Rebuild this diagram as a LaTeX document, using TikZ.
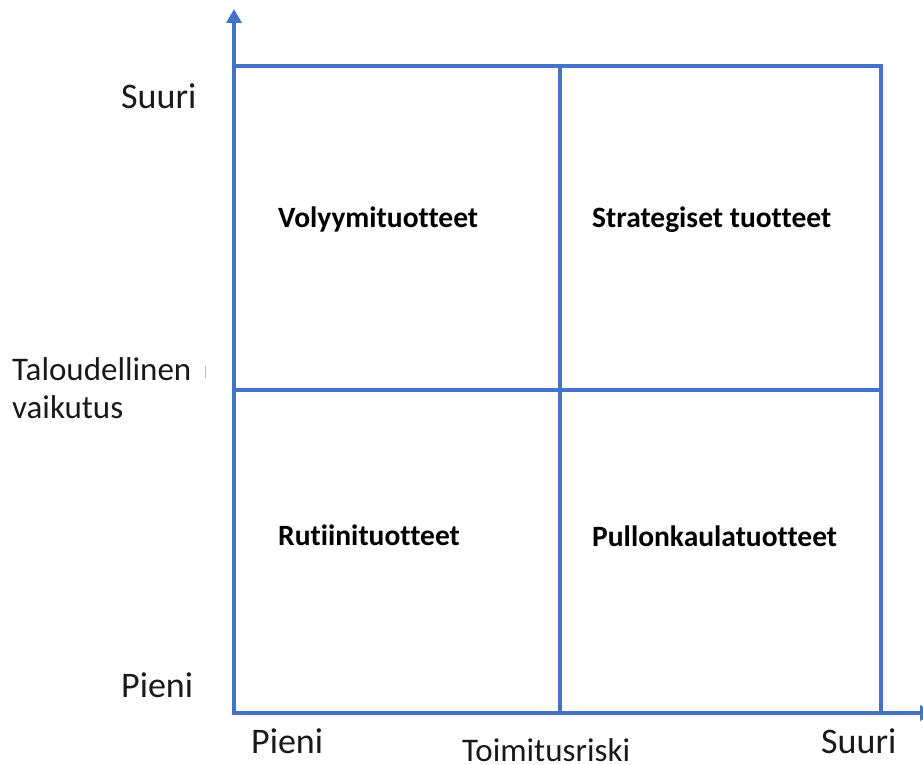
\documentclass[tikz,border=0pt]{standalone}
\usepackage{fontspec}
\setmainfont{Carlito}[Ligatures=NoCommon]
\usetikzlibrary{arrows.meta}
\definecolor{axblue}{RGB}{68,114,196}
\tikzset{
  gridline/.style={draw=axblue, line width=3.6pt},
  axisline/.style={draw=axblue, line width=3.6pt, -{Triangle[length=14pt,width=15pt]}},
  axlabel/.style={anchor=base west, inner sep=0pt, font=\fontsize{36}{43}\selectfont, text=black!90},
  axtitle/.style={anchor=base west, inner sep=0pt, font=\fontsize{33}{39}\selectfont, text=black!90},
  cell/.style={anchor=base west, inner sep=0pt, font=\fontsize{29.5}{35}\selectfont\bfseries, text=black},
}
\begin{document}
\begin{tikzpicture}[x=1pt,y=-1pt]
\clip (0,0) rectangle (923,765);
\fill[white] (0,0) rectangle (923,765);
% grid corners
\coordinate (o) at (234,713);
\coordinate (ytip) at (234,9);
\coordinate (xtip) at (934,713);
\coordinate (tl) at (234,66);
\coordinate (tm) at (560,66);
\coordinate (tr) at (881,66);
\coordinate (ml) at (234,390);
\coordinate (mr) at (881,390);
\coordinate (bm) at (560,713);
\coordinate (br) at (881,713);
% grid
\draw[gridline] (tl) -- (tr) -- (br);
\draw[gridline] (tm) -- (bm);
\draw[gridline] (ml) -- (mr);
% axes
\draw[axisline] ([yshift=1.8pt]o) -- (ytip);
\draw[axisline] ([xshift=-1.8pt]o) -- (xtip);
% y axis labels
\node[axlabel] (ysuuri) at (121,109) {Suuri};
\node[axtitle] (ytitle1) at (12,380) {Taloudellinen};
\node[axtitle] (ytitle2) at (12,418) {vaikutus};
\node[axlabel] (ypieni) at (121,697) {Pieni};
\draw[black!25, line width=0.8pt] (205,366) -- (205,378);
% x axis labels
\node[axlabel] (xpieni) at (251,753) {Pieni};
\node[axtitle] (xtitle) at (462,761) {Toimitusriski};
\node[axlabel] (xsuuri) at (821,753) {Suuri};
% cells
\node[cell] (c1) at (278,227) {Volyymituotteet};
\node[cell] (c2) at (592,227) {Strategiset tuotteet};
\node[cell] (c3) at (278,545) {Rutiinituotteet};
\node[cell] (c4) at (592,546) {Pullonkaulatuotteet};
\end{tikzpicture}
\end{document}
